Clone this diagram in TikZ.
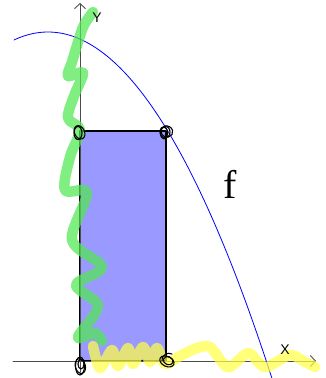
\documentclass[tikz,border=0pt]{standalone}
\usepackage{fontspec}
\setmainfont{Liberation Serif}
\setsansfont{Liberation Sans}
\usetikzlibrary{arrows.meta}
\definecolor{hlgreen}{RGB}{80,232,80}
\definecolor{hlyellow}{RGB}{255,255,70}
\begin{document}
\begin{tikzpicture}[x=1pt, y=-1pt, line join=round, line cap=round,
  axis/.style={draw=gray!60!black, line width=0.9pt, -{Straight Barb[length=5pt,width=11pt]}},
  area/.style={draw=black, line width=1.4pt, fill=blue!40},
  marker/.style={line width=10.5pt, opacity=0.72},
  scribble/.style={draw=black, line width=1.1pt},
  lab/.style={font=\sffamily\fontsize{14}{14}\selectfont, inner sep=0pt}]
\useasboundingbox (0,0) rectangle (326,378);
\coordinate (O) at (80,361);
\coordinate (xstart) at (13,361);
\coordinate (xend) at (316,361);
\coordinate (ystart) at (80,372);
\coordinate (yend) at (80,3);
\coordinate (A) at (80,131);
\coordinate (B) at (166,131);
\coordinate (C) at (166,361);
\filldraw[area] (O) rectangle (B);
\draw[axis] (xstart) -- (xend);
\draw[axis] (ystart) -- (yend);
\draw[blue, line width=0.8pt] plot[domain=14:272, samples=80, smooth] (\x, {32+(0.0831*(\x-48))^2});
\draw[marker, draw=hlgreen] plot[smooth, tension=0.55] coordinates {
  (93,12) (84,25) (78,42) (72,62) (68,76) (83,73) (74,96) (68,118) (80,130)
  (70,157) (65,190) (87,193) (72,240) (102,267) (76,285) (98,306) (78,337)
  (95,333) (102,341)};
\draw[marker, draw=hlyellow] plot[smooth, tension=0.5] coordinates {
  (93,346) (100,368) (112,350) (118,366) (128,348) (133,364) (143,347)
  (150,362) (157,348) (165,364) (180,356) (197,348) (210,347) (222,362)
  (230,367) (248,353) (258,362) (267,367) (290,355) (305,362) (315,367)};
\draw[scribble] (A) ++(-2,2) ellipse (4 and 6.5);
\draw[scribble, rotate around={25:(A)}] (A) ++(-1,1) ellipse (5 and 7);
\draw[scribble] (B) ++(-1,1) ellipse (5 and 6);
\draw[scribble, rotate around={-30:(B)}] (B) ++(1,0) ellipse (6 and 5.5);
\draw[scribble] (B) ++(-2,2) ellipse (3.5 and 6);
\draw[scribble] (O) ++(0,5) ellipse (4.5 and 9);
\draw[scribble, rotate around={15:(O)}] (O) ++(-1,5) ellipse (5 and 7.5);
\draw[scribble] (O) ++(1,3) ellipse (3 and 5);
\draw[scribble, rotate around={-25:(C)}] (C) ++(1,0) ellipse (7.5 and 5);
\draw[scribble, rotate around={-20:(C)}] (C) ++(2,-1) ellipse (5 and 4);
\draw[scribble] (C) ++(-4,0) .. controls +(0,-7) and +(-4,-2) .. ++(10,-7);
\node[lab] (ylab) at (97,18) {Y};
\node[lab] (xlab) at (285,350) {X};
\node[font=\fontsize{40}{40}\selectfont, inner sep=0pt] (flab) at (230,184) {f};
\end{tikzpicture}
\end{document}
